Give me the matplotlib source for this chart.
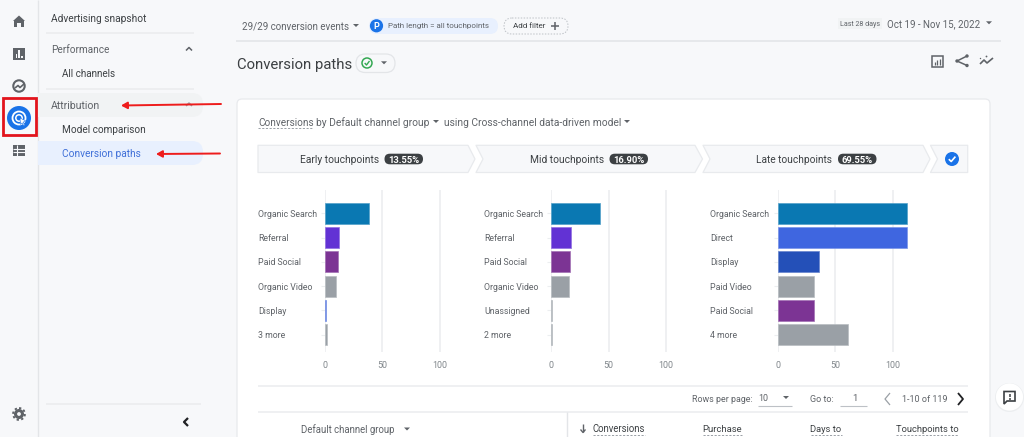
import matplotlib
matplotlib.use("Agg")
import matplotlib.pyplot as plt
from matplotlib.patches import Rectangle, FancyBboxPatch, Circle, Polygon, FancyArrowPatch
from matplotlib.colors import to_rgb

# ---------- data ----------
early_labels = ["Organic Search", "Referral", "Paid Social", "Organic Video", "Display", "3 more"]
early_values = [38.5, 12.5, 11.5, 9.5, 1.5, 2]
mid_labels = ["Organic Search", "Referral", "Paid Social", "Organic Video", "Unassigned", "2 more"]
mid_values = [43, 17.5, 16.5, 15.5, 1, 1]
late_labels = ["Organic Search", "Direct", "Display", "Paid Video", "Paid Social", "4 more"]
late_values = [113, 112.5, 36, 32, 32, 61]
x_ticks = [0, 50, 100]
stage_names = ["Early touchpoints", "Mid touchpoints", "Late touchpoints"]
stage_shares = ["13.55%", "16.90%", "69.55%"]

channel_colors = {
    "Organic Search": "#0a78b2", "Referral": "#6232d4", "Paid Social": "#7c3494",
    "Organic Video": "#9aa0a6", "Paid Video": "#9aa0a6", "Direct": "#3f66e0",
    "Unassigned": "#9aa0a6", "more": "#9aa0a6",
}

W, H = 1024, 437
BG = "#f7f8fa"
TXT = "#5f6368"
DARK = "#3c4043"
LINE = "#e8eaed"
BLUE = "#1a73e8"
plt.rcParams["font.family"] = ["Roboto", "DejaVu Sans"]

fig = plt.figure(figsize=(W / 100, H / 100), dpi=100, facecolor=BG)
ui = fig.add_axes([0, 0, 1, 1], zorder=0)
ui.set_xlim(0, W)
ui.set_ylim(H, 0)
ui.axis("off")
rend = fig.canvas.get_renderer()


def T(x, y, s, w=None, size=7, color=TXT, ha="left", weight="normal", z=5):
    t = ui.text(x, y, s, fontsize=size, color=color, ha=ha, va="center_baseline", weight=weight, zorder=z)
    if w:
        cur = t.get_window_extent(rend).width
        t.set_fontsize(size * w / cur)
    return t


def L(xs, ys, c=LINE, lw=1.0, z=2, **k):
    ui.plot(xs, ys, color=c, lw=lw, zorder=z, solid_capstyle=k.pop("cap", "butt"), **k)


def pill(x0, y0, x1, y1, fc, ec="none", lw=0.8, r=None, z=2, ls="-"):
    r = (y1 - y0) / 2 if r is None else r
    ui.add_patch(FancyBboxPatch((x0 + r, y0 + r), x1 - x0 - 2 * r, y1 - y0 - 2 * r,
                                boxstyle=f"round,pad={r}", fc=fc, ec=ec, lw=lw, zorder=z, ls=ls))


def caret(x, y, c=TXT, s=3):
    ui.add_patch(Polygon([(x - s, y - 1.5), (x + s, y - 1.5), (x, y + 1.5)], fc=c, ec="none", zorder=6))


# ---------- page chrome ----------
L([37.5, 37.5], [0, H], "#e3e5e8")
L([46, 194], [33, 33], "#ebedef", 1.2)
L([46, 194], [89, 89], "#ebedef", 1.2)
L([46, 201], [404, 404], "#ebedef", 1.2)
L([236, 1001], [41, 41], "#e3e5e8", 1.2)

# side navigation
pill(38, 93, 203, 117, "#f1f3f4", r=11)
ui.add_patch(Rectangle((38, 93), 12, 24, fc="#f1f3f4", ec="none", zorder=2))
pill(38, 141, 203, 165, "#e8f0fe", r=11)
ui.add_patch(Rectangle((38, 141), 12, 24, fc="#e8f0fe", ec="none", zorder=2))
T(51, 17.5, "Advertising snapshot", 95, color=DARK)
T(51, 49, "Performance", 58)
T(62, 73, "All channels", 53, color=DARK)
T(51, 105, "Attribution", 49)
T(62, 129, "Model comparison", 83, color=DARK)
T(62, 153, "Conversion paths", 78, color="#3f6fd8")
L([186, 189, 192], [50.5, 47.5, 50.5], TXT, 1.1)
L([186, 189, 192], [106, 103, 106], "#9aa0a6", 1.1)
L([188, 184, 188], [418, 422, 426], "#202124", 1.6)

# rail icons
ui.add_patch(Polygon([(13, 21), (19, 15.5), (25, 21), (24, 21), (24, 27), (21, 27), (21, 23), (17, 23), (17, 27),
                      (14, 27), (14, 21)], fc=TXT, ec="none", zorder=4))
ui.add_patch(Rectangle((13, 47.5), 12, 12, fc=TXT, ec="none", zorder=4))
for bx, bt in [(15.5, 54), (18.4, 50), (21.3, 55.5)]:
    ui.add_patch(Rectangle((bx, bt), 1.4, 57.8 - bt, fc=BG, ec="none", zorder=5))
ui.add_patch(Circle((19, 86), 5.7, fc="none", ec=TXT, lw=1.5, zorder=4))
L([15, 18, 20, 24], [88, 85.5, 87.5, 84], TXT, 1.2, z=5)
ui.add_patch(Rectangle((2.5, 98), 33, 37, fc="none", ec="#e2141c", lw=2, zorder=6))
ui.add_patch(Circle((19, 118), 12, fc=BLUE, ec="none", zorder=4))
ui.add_patch(Circle((19, 118), 6.5, fc="none", ec="white", lw=1.3, zorder=5))
ui.add_patch(Circle((19, 118), 3.2, fc="none", ec="white", lw=1.1, zorder=5))
ui.add_patch(Polygon([(20, 118), (26, 121), (23, 122.2), (25, 125), (23.8, 125.6), (22, 123), (20.5, 124.5)],
                     fc="white", ec=BLUE, lw=0.4, zorder=6))
ui.add_patch(Rectangle((13, 145), 12, 11, fc=TXT, ec="none", zorder=4))
for ly in (148.5, 152):
    L([13, 25], [ly, ly], BG, 0.8, z=5)
L([16.5, 16.5], [145, 156], BG, 0.8, z=5)
ui.add_patch(Circle((19, 414), 5, fc=TXT, ec="none", zorder=4))
ui.add_patch(Circle((19, 414), 5.9, fc="none", ec=TXT, lw=1.4, ls=(0, (1.2, 1.2)), zorder=4))
ui.add_patch(Circle((19, 414), 1.9, fc=BG, ec="none", zorder=5))

# red arrows
for x0, y0, x1, y1 in [(221, 104, 121, 105.5), (220, 153.5, 156, 154)]:
    ui.add_patch(FancyArrowPatch((x0, y0), (x1, y1), arrowstyle="-|>,head_length=3.6,head_width=2",
                                 color="#ee1c1c", lw=1.4, shrinkA=0, shrinkB=0, zorder=7))

# top bar
T(241.5, 25.5, "29/29 conversion events", 108)
caret(356, 25.5)
pill(369, 18, 498, 34, "#e8f0fe")
ui.add_patch(Circle((376.5, 25.8), 6.6, fc=BLUE, ec="none", zorder=4))
T(376.5, 25.8, "P", size=6.5, color="white", ha="center", weight="bold")
T(388, 25.8, "Path length = all touchpoints", 102)
pill(504, 18, 568, 34, BG, ec="#bdc1c6", lw=0.7, ls=(0, (1.5, 1.5)))
T(513, 25.8, "Add filter", 33, color=DARK)
L([551, 559], [25.8, 25.8], TXT, 1.1)
L([555, 555], [21.8, 29.8], TXT, 1.1)
ui.add_patch(Rectangle((838, 18), 44, 10.5, fc="#f1f3f4", ec="none", zorder=2))
T(840, 23.3, "Last 28 days", 40, size=5.5)
T(887, 22.8, "Oct 19 - Nov 15, 2022", 94)
caret(989, 22.8)

# title row
T(237, 63, "Conversion paths", 115, color=DARK, size=12)
pill(356, 54, 395, 72.5, BG, ec="#e3e5e8", lw=0.9)
ui.add_patch(Circle((367, 63), 5, fc="none", ec="#34a853", lw=1.1, zorder=4))
L([364.7, 366.5, 369.5], [63, 65, 61], "#34a853", 1.0, z=5)
caret(384, 62.8)

# top right icons
ui.add_patch(Rectangle((931.5, 55.5), 11.5, 11.5, fc="none", ec=TXT, lw=1.1, zorder=4))
for bx, bt in [(934.5, 62), (937, 60), (939.5, 58.5)]:
    L([bx, bx], [bt, 65], TXT, 0.9, z=5)
L([967, 957, 967], [56, 61, 65.5], TXT, 1.1, z=4)
for px, py in [(967, 56), (957, 61), (967, 65.5)]:
    ui.add_patch(Circle((px, py), 1.7, fc=TXT, ec="none", zorder=5))
L([980, 984, 987, 993], [64, 60, 63, 58], TXT, 1.2, z=4)
ui.add_patch(Circle((986.5, 56.5), 0.9, fc=TXT, ec="none", zorder=5))
ui.add_patch(Circle((980.5, 58.5), 0.7, fc=TXT, ec="none", zorder=5))

# card
pill(237, 99, 990, 470, "white", ec="#e8eaed", lw=0.9, r=5, z=1)
T(258, 122, "Conversions", 55)
L([258, 313], [128.3, 128.3], "#9aa0a6", 0.7, ls=(0, (2.2, 1.6)))
T(316, 122, "by Default channel group", 114)
caret(436, 121.5)
T(444, 122, "using Cross-channel data-driven model", 178)
caret(627, 121.5)

# funnel band
B0, B1, BM = 145.3, 172.5, 159
bands = [
    [(258, B0), (468, B0), (475, BM), (468, B1), (258, B1)],
    [(476, B0), (695, B0), (702.5, BM), (695, B1), (476, B1), (483, BM)],
    [(703, B0), (923, B0), (930, BM), (923, B1), (703, B1), (710, BM)],
    [(930.5, B0), (967.7, B0), (967.7, B1), (930.5, B1), (937.5, BM)],
]
for b in bands:
    ui.add_patch(Polygon(b, closed=True, fc="#f7f8fa", ec="#e8eaed", lw=0.9, zorder=2, joinstyle="round"))
stage_x = [(300, 79, 384.5), (530.5, 74, 609.5), (756.5, 76, 838)]
for name, share, (tx, tw, px) in zip(stage_names, stage_shares, stage_x):
    T(tx, 159.3, name, tw, color=DARK)
    pill(px, 153.7, px + 38.5, 164.3, "#3c4043", z=3)
    T(px + 19.2, 159.2, share, 31, color="white", ha="center", weight="bold")
ui.add_patch(Circle((952, 159), 7, fc=BLUE, ec="none", zorder=4))
L([948.8, 951.2, 955.4], [159.2, 161.5, 156.6], "white", 1.2, z=5)

# table header and footer
L([258, 968], [386, 386], "#eceef0", 1.2)
L([258, 968], [412, 412], "#eceef0", 1.2)
L([566.5, 566.5], [412, H], "#e3e5e8", 1.0)
T(691.5, 398.5, "Rows per page:", 61)
T(758, 397.5, "10", 10)
caret(786, 397.5)
L([758, 792], [406, 406], "#bdc1c6", 0.8)
T(810.5, 398.5, "Go to:", 24)
T(852, 397.5, "1", size=6.8)
L([840, 867], [405.5, 405.5], "#bdc1c6", 0.8)
L([890, 885, 890], [393, 399, 405], "#9aa0a6", 0.9)
T(901.5, 398.5, "1-10 of 119", 45.5)
L([958, 963, 958], [393, 399, 405], "#202124", 1.3)
T(301, 429, "Default channel group", 94)
caret(407, 429)
L([583, 583], [424, 432], TXT, 1.0)
L([580.5, 583, 585.5], [429.5, 432.5, 429.5], TXT, 1.0)
for x0, w, s in [(592.5, 52.5, "Conversions"), (702.5, 39.5, "Purchase"), (810.5, 31.5, "Days to"),
                 (895.5, 62.5, "Touchpoints to")]:
    T(x0, 428.5, s, w, color=DARK)
    L([x0, x0 + w], [435, 435], "#9aa0a6", 0.7, ls=(0, (2.2, 1.6)))

# feedback button
ui.add_patch(Circle((1009.5, 397.5), 14.5, fc="#eceef0", ec="none", zorder=3))
ui.add_patch(Circle((1009.5, 397), 13.6, fc="white", ec="none", zorder=4))
ui.add_patch(Polygon([(1004, 391.5), (1015, 391.5), (1015, 401), (1007, 401), (1004, 404)], fc="none", ec=DARK,
                     lw=1.2, zorder=5))
L([1009.5, 1009.5], [393.5, 397], DARK, 1.1, z=6)
L([1009.5, 1009.5], [398, 399.5], DARK, 1.1, z=6)


# ---------- charts ----------
def tint(c, a=0.3):
    r = to_rgb(c)
    return tuple(v + (1 - v) * a for v in r)


def panel(x0, label_x, labels, values, colors):
    px_per_unit = 1.15
    left, right = x0, x0 + 125 * px_per_unit
    top, bottom = 190, 352
    ax = fig.add_axes([left / W, 1 - bottom / H, (right - left) / W, (bottom - top) / H], zorder=3)
    ax.patch.set_alpha(0)
    ax.set_xlim(0, 125)
    ax.set_ylim(5.72, -0.97)
    pos = list(range(len(labels)))
    ax.set_axisbelow(True)
    ax.xaxis.grid(True, color="#eceef0", lw=1.2)
    ax.barh(pos, values, height=0.87, color=colors, edgecolor=[tint(c) for c in colors], linewidth=0.5, zorder=3)
    for s in ax.spines.values():
        s.set_visible(False)
    ax.set_xticks(x_ticks)
    ax.set_xticklabels([str(v) for v in x_ticks])
    ax.tick_params(axis="x", length=0, pad=6.5, labelsize=6.4, labelcolor="#80868b")
    ax.set_yticks(pos)
    ax.set_yticklabels(labels)
    ax.tick_params(axis="y", length=3, width=0.8, color="#eceef0", pad=(x0 - label_x) * 0.72 - 3, labelsize=6.35,
                   labelcolor=TXT)
    for lab in ax.get_yticklabels():
        lab.set_ha("left")
    return ax


def colors_for(labels, overrides=None):
    overrides = overrides or {}
    return [overrides.get(l, channel_colors.get(l, channel_colors["more"])) for l in labels]


panel(324.7, 258, early_labels, early_values, colors_for(early_labels, {"Display": "#3f63d8"}))
panel(551, 484, mid_labels, mid_values, colors_for(mid_labels))
panel(777.5, 710.5, late_labels, late_values, colors_for(late_labels, {"Display": "#2450b8"}))

fig.savefig("out.png", dpi=100, facecolor=BG)
